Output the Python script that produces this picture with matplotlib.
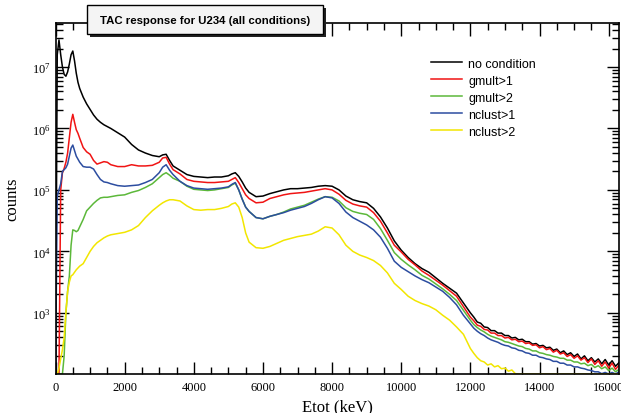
import numpy as np
import matplotlib
matplotlib.use('Agg')
import matplotlib.pyplot as plt
from matplotlib.ticker import LogLocator, MultipleLocator, FuncFormatter, NullFormatter
from matplotlib.patches import Rectangle

nan = np.nan

# bin centres (keV)
energy = [0, 50, 100, 150, 200, 250, 300, 350, 400, 450, 500, 550, 600, 650, 700,
          800, 900, 1000, 1100, 1200, 1300, 1400, 1500, 1600,
          1800, 2000, 2200, 2400, 2600, 2800, 3000, 3100, 3200, 3300, 3400,
          3600, 3800, 4000, 4200, 4400, 4600, 4800, 5000,
          5100, 5200, 5300, 5400, 5500, 5600,
          5800, 6000, 6200, 6400, 6600, 6800, 7000, 7200, 7400, 7600, 7800,
          8000, 8200, 8400, 8600, 8800, 9000, 9200, 9400, 9600, 9800,
          10000, 10200, 10400, 10600, 10800, 11000, 11200, 11400, 11600, 11800,
          12000, 12100, 12200, 12300, 12400, 12500, 12600, 12700, 12800, 12900,
          13000, 13100, 13200, 13300, 13400, 13500, 13600, 13700, 13800, 13900,
          14000, 14100, 14200, 14300, 14400, 14500, 14600, 14700, 14800, 14900,
          15000, 15100, 15200, 15300, 15400, 15500, 15600, 15700, 15800, 15900,
          16000, 16100, 16200, 16300]

# log10(counts), nan = empty bin
log_nocond = [nan, 7.20, 7.44, 7.20, 7.00, 6.88, 6.85, 6.92, 7.05, 7.20, 7.26, 7.10, 6.90, 6.75, 6.65,
              6.51, 6.40, 6.31, 6.22, 6.15, 6.10, 6.06, 6.03, 6.00,
              5.93, 5.86, 5.74, 5.65, 5.60, 5.56, 5.54, 5.57, 5.58, 5.48, 5.39,
              5.32, 5.25, 5.22, 5.21, 5.20, 5.21, 5.21, 5.23,
              5.26, 5.28, 5.22, 5.13, 5.03, 4.96,
              4.89, 4.90, 4.94, 4.97, 5.00, 5.02, 5.02, 5.03, 5.04, 5.06, 5.07,
              5.06, 5.00, 4.90, 4.84, 4.81, 4.79, 4.70, 4.56, 4.38, 4.17,
              4.02, 3.90, 3.80, 3.72, 3.66, 3.57, 3.48, 3.40, 3.32, 3.16,
              3.00, 2.93, 2.85, 2.83, 2.77, 2.76, 2.71, 2.71, 2.67, 2.67,
              2.63, 2.63, 2.59, 2.60, 2.56, 2.57, 2.53, 2.53, 2.49, 2.50,
              2.46, 2.47, 2.43, 2.44, 2.39, 2.41, 2.35, 2.38, 2.32, 2.35,
              2.29, 2.33, 2.25, 2.30, 2.22, 2.27, 2.20, 2.25, 2.17, 2.24,
              2.15, 2.22, 2.13, 2.19]

log_gmult1 = [nan, nan, nan, 5.00, 5.28, 5.35, 5.45, 5.60, 5.85, 6.10, 6.23, 6.10, 5.98, 5.92, 5.84,
              5.69, 5.62, 5.58, 5.48, 5.42, 5.44, 5.46, 5.45, 5.41,
              5.38, 5.38, 5.41, 5.39, 5.39, 5.40, 5.45, 5.52, 5.53, 5.42, 5.33,
              5.26, 5.17, 5.14, 5.13, 5.12, 5.12, 5.13, 5.14,
              5.17, 5.20, 5.12, 5.02, 4.92, 4.86,
              4.79, 4.80, 4.86, 4.89, 4.92, 4.94, 4.95, 4.96, 4.98, 5.00, 5.02,
              5.00, 4.93, 4.83, 4.77, 4.74, 4.72, 4.63, 4.49, 4.30, 4.10,
              3.99, 3.87, 3.78, 3.68, 3.61, 3.53, 3.45, 3.36, 3.27, 3.10,
              2.93, 2.87, 2.80, 2.78, 2.73, 2.72, 2.67, 2.67, 2.63, 2.63,
              2.59, 2.60, 2.56, 2.57, 2.53, 2.54, 2.50, 2.51, 2.47, 2.48,
              2.43, 2.45, 2.40, 2.42, 2.36, 2.39, 2.33, 2.35, 2.29, 2.32,
              2.26, 2.30, 2.23, 2.27, 2.19, 2.25, 2.16, 2.22, 2.13, 2.20,
              2.10, 2.18, 2.08, 2.15]

log_gmult2 = [nan, nan, nan, nan, nan, 2.30, 3.00, 3.35, 3.60, 4.10, 4.35, 4.34, 4.32, 4.34, 4.40,
              4.52, 4.66, 4.72, 4.78, 4.83, 4.87, 4.88, 4.88, 4.89,
              4.91, 4.92, 4.96, 4.99, 5.04, 5.10, 5.20, 5.25, 5.28, 5.24, 5.19,
              5.14, 5.06, 5.01, 5.00, 4.99, 5.00, 5.02, 5.04,
              5.08, 5.11, 5.00, 4.85, 4.72, 4.65,
              4.55, 4.53, 4.57, 4.60, 4.64, 4.69, 4.72, 4.75, 4.80, 4.85, 4.89,
              4.88, 4.82, 4.71, 4.65, 4.62, 4.60, 4.52, 4.37, 4.18, 3.98,
              3.87, 3.78, 3.70, 3.61, 3.55, 3.47, 3.39, 3.30, 3.20, 3.04,
              2.88, 2.81, 2.76, 2.72, 2.69, 2.65, 2.62, 2.60, 2.58, 2.56,
              2.53, 2.52, 2.50, 2.48, 2.46, 2.45, 2.42, 2.41, 2.38, 2.38,
              2.35, 2.34, 2.32, 2.31, 2.29, 2.28, 2.26, 2.26, 2.23, 2.23,
              2.20, 2.20, 2.17, 2.18, 2.14, 2.16, 2.11, 2.14, 2.09, 2.12,
              2.06, 2.10, 2.04, 2.08]

log_nclust1 = [nan, 4.90, 5.00, 5.10, 5.30, 5.33, 5.36, 5.42, 5.55, 5.68, 5.73, 5.64, 5.55, 5.50, 5.45,
               5.38, 5.37, 5.37, 5.34, 5.25, 5.17, 5.13, 5.12, 5.10,
               5.07, 5.06, 5.07, 5.08, 5.12, 5.17, 5.28, 5.37, 5.41, 5.32, 5.25,
               5.14, 5.07, 5.03, 5.02, 5.01, 5.02, 5.03, 5.05,
               5.09, 5.12, 5.00, 4.85, 4.72, 4.65,
               4.55, 4.53, 4.57, 4.60, 4.63, 4.67, 4.70, 4.73, 4.78, 4.84, 4.89,
               4.87, 4.78, 4.64, 4.55, 4.49, 4.43, 4.35, 4.23, 4.05, 3.84,
               3.74, 3.67, 3.60, 3.54, 3.49, 3.42, 3.35, 3.25, 3.13, 2.96,
               2.82, 2.75, 2.70, 2.66, 2.63, 2.59, 2.56, 2.54, 2.52, 2.49,
               2.47, 2.46, 2.43, 2.42, 2.39, 2.38, 2.35, 2.34, 2.31, 2.31,
               2.28, 2.27, 2.25, 2.24, 2.21, 2.21, 2.18, 2.18, 2.15, 2.15,
               2.12, 2.12, 2.10, 2.09, 2.07, 2.06, 2.04, 2.04, 2.01, 2.03,
               1.99, 2.03, 2.00, 2.04]

log_nclust2 = [nan, nan, 2.10, 2.25, 2.40, 2.60, 3.00, 3.35, 3.50, 3.60, 3.62, 3.66, 3.70, 3.73, 3.76,
               3.80, 3.90, 4.00, 4.08, 4.14, 4.18, 4.22, 4.25, 4.27,
               4.29, 4.31, 4.35, 4.42, 4.55, 4.66, 4.75, 4.79, 4.82, 4.84, 4.84,
               4.82, 4.74, 4.68, 4.67, 4.68, 4.68, 4.70, 4.73,
               4.77, 4.79, 4.72, 4.55, 4.30, 4.15,
               4.06, 4.05, 4.08, 4.13, 4.18, 4.21, 4.24, 4.26, 4.28, 4.33, 4.40,
               4.38, 4.27, 4.10, 4.00, 3.94, 3.90, 3.85, 3.77, 3.65, 3.48,
               3.38, 3.27, 3.20, 3.15, 3.11, 3.05, 2.96, 2.88, 2.77, 2.65,
               2.42, 2.34, 2.27, 2.22, 2.20, 2.15, 2.17, 2.12, 2.14, 2.09,
               2.10, 2.05, 2.07, 2.01, nan, nan, nan, nan, nan, nan,
               nan, nan, nan, nan, nan, nan, nan, nan, nan, nan,
               nan, nan, nan, nan, nan, nan, nan, nan, nan, nan,
               nan, nan, nan, nan]

labels = ['no condition', 'gmult>1', 'gmult>2', 'nclust>1', 'nclust>2']
colors = ['black', '#f01414', '#5cb83a', '#2c4da0', '#f2e600']

ymin, ymax = 101, 5.2e7
xmax = 16300


def to_counts(logs):
    c = np.power(10.0, np.array(logs, dtype=float))
    return np.where(np.isnan(c), 0.0, c)


fig = plt.figure(figsize=(6.21, 4.14), dpi=100)
ax = fig.add_axes([0.0894, 0.0942, 0.9074, 0.8478])

series = [log_nocond, log_gmult1, log_gmult2, log_nclust1, log_nclust2]
for logs, lab, col in zip(series, labels, colors):
    counts = to_counts(logs)
    # empty bins sit on the bottom of the frame like in ROOT
    ax.plot(energy, np.maximum(counts, ymin), color=col, lw=1.1, label=lab)

ax.set_yscale('log')
ax.set_xlim(0, xmax)
ax.set_ylim(ymin, ymax)

ax.xaxis.set_major_locator(MultipleLocator(2000))
ax.xaxis.set_minor_locator(MultipleLocator(500))
ax.yaxis.set_major_locator(LogLocator(base=10))
ax.yaxis.set_minor_locator(LogLocator(base=10, subs=np.arange(2, 10)))
ax.yaxis.set_minor_formatter(NullFormatter())
ax.yaxis.set_major_formatter(FuncFormatter(
    lambda v, p: r'$\mathregular{10^{%d}}$' % round(np.log10(v))))

ax.tick_params(which='both', direction='in', top=True, right=True, width=1.0)
ax.tick_params(which='major', length=9)
ax.tick_params(which='minor', length=5)
ax.tick_params(axis='x', pad=5)
for lbl in ax.get_xticklabels() + ax.get_yticklabels():
    lbl.set_family('Liberation Serif')
    lbl.set_fontsize(9)
for s in ax.spines.values():
    s.set_linewidth(1.2)

ax.set_xlabel('Etot (keV)', family='Liberation Serif', fontsize=12, labelpad=4)
ax.set_ylabel('counts', family='Liberation Serif', fontsize=12, labelpad=8)

leg = ax.legend(loc='upper left', bbox_to_anchor=(0.694, 0.858), bbox_transform=fig.transFigure,
                frameon=False, borderpad=0, borderaxespad=0, handlelength=2.5,
                handletextpad=0.5, labelspacing=0.4, prop={'family': 'Liberation Sans', 'size': 9})

# title box with shadow
fig.patches.append(Rectangle((0.1449, 0.9082), 0.380, 0.070, transform=fig.transFigure,
                             facecolor='#222222', edgecolor='none', zorder=5))
fig.patches.append(Rectangle((0.1401, 0.9155), 0.380, 0.070, transform=fig.transFigure,
                             facecolor='#f4f4f4', edgecolor='black', lw=1.0, zorder=6))
fig.text(0.330, 0.950, 'TAC response for U234 (all conditions)', ha='center', va='center',
         family='Liberation Sans', weight='bold', fontsize=8.2, zorder=7)

fig.savefig('out.png', dpi=100)
